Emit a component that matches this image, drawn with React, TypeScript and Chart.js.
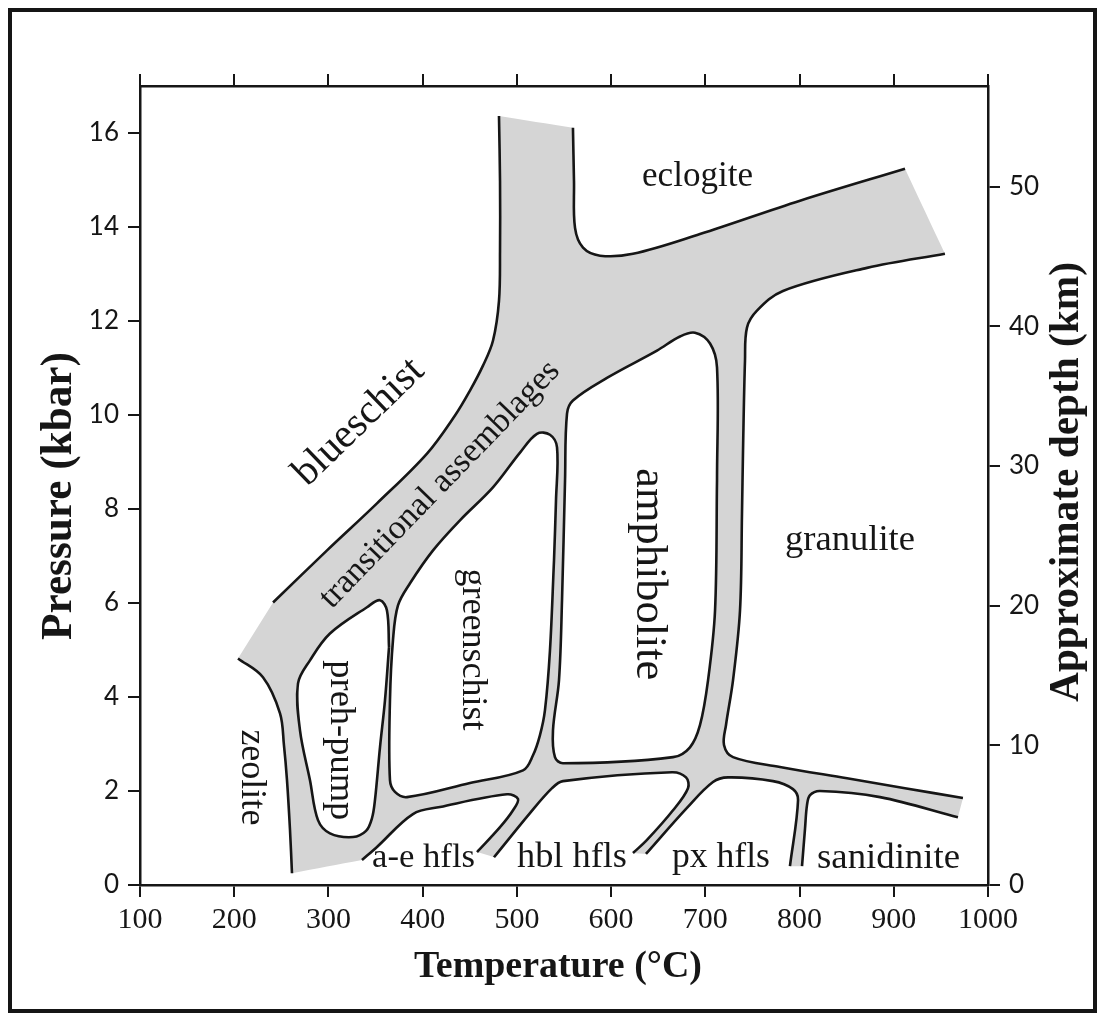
import React, { useEffect, useRef } from 'react';
import { Chart, registerables } from 'chart.js';

Chart.register(...registerables);

type Pt = [number, number]; // [temperature °C, pressure kbar]

// ---- axis ticks ----
const temperatureTicks = [100, 200, 300, 400, 500, 600, 700, 800, 900, 1000];
const pressureTicks = [0, 2, 4, 6, 8, 10, 12, 14, 16];
const depthTicks = [0, 10, 20, 30, 40, 50];

// ---- open facies boundaries (black curves) ----
const blueschistLine: Pt[] = [
  [241.2, 6.01], [298.5, 7.12], [351.5, 8.12], [404.6, 9.18], [434.3, 9.99], [450.2, 10.52],
  [464.0, 11.05], [474.6, 11.58], [481.0, 12.43], [482.1, 13.49], [482.1, 14.98], [481.0, 16.36],
];
const eclogiteLine: Pt[] = [
  [559.5, 16.11], [560.6, 14.98], [561.7, 13.98], [570.2, 13.56], [588.2, 13.39], [623.2, 13.43],
  [694.3, 13.85], [800.5, 14.56], [911.9, 15.24],
];
const granuliteLine: Pt[] = [
  [954.3, 13.43], [871.6, 13.13], [782.4, 12.64], [754.8, 12.22], [744.2, 11.86], [742.1, 11.16],
  [740.0, 9.24], [738.9, 7.9], [736.8, 5.84], [729.4, 4.36], [721.9, 3.4], [719.8, 2.98],
  [729.4, 2.72], [779.2, 2.51], [850.4, 2.27], [911.9, 2.06], [973.4, 1.85],
];
const sanidiniteLine: Pt[] = [
  [968.1, 1.44], [885.4, 1.87], [821.7, 2.0], [811.1, 1.91], [807.9, 1.7], [805.8, 1.2], [802.6, 0.4],
];
const pxHornfelsLine: Pt[] = [
  [789.8, 0.4], [798.4, 1.81], [793.0, 2.04], [771.8, 2.21], [724.1, 2.29], [708.1, 2.19],
  [680.5, 1.64], [637.0, 0.66],
];
const hblHornfelsLine: Pt[] = [
  [623.2, 0.68], [638.1, 0.96], [665.7, 1.59], [681.6, 2.06], [679.5, 2.29], [664.6, 2.4],
  [548.9, 2.21], [537.3, 2.06], [513.9, 1.53], [475.7, 0.59],
];
const aeHornfelsLine: Pt[] = [
  [457.7, 0.7], [482.1, 1.23], [495.9, 1.59], [501.2, 1.83], [489.5, 1.93], [418.4, 1.66],
  [389.7, 1.51], [351.5, 0.81], [335.6, 0.53],
];
const zeoliteLine: Pt[] = [
  [204.0, 4.82], [230.5, 4.42], [248.6, 3.65], [252.8, 2.97], [256.0, 2.23], [259.2, 1.17], [261.3, 0.25],
];

// ---- closed facies fields ----
const prehPumpField: Pt[] = [
  [364.3, 5.06], [360.0, 3.93], [354.7, 2.93], [349.4, 1.81], [346.2, 1.42], [339.9, 1.15],
  [326.1, 1.02], [301.6, 1.1], [288.9, 1.38], [280.4, 2.23], [269.8, 3.29], [267.7, 4.29],
  [280.4, 4.78], [301.6, 5.35], [340.9, 5.91], [354.7, 6.06], [362.1, 5.84],
];
const greenschistField: Pt[] = [
  [539.4, 6.91], [535.1, 4.99], [529.8, 3.72], [524.5, 3.19], [517.1, 2.76], [506.5, 2.44],
  [450.2, 2.17], [383.4, 1.87], [370.6, 1.98], [365.3, 2.23], [365.3, 3.93], [368.5, 5.21],
  [373.8, 5.95], [386.6, 6.42], [411.0, 7.12], [439.6, 7.76], [474.6, 8.46], [503.3, 9.2],
  [521.3, 9.6], [535.1, 9.58], [542.6, 9.31], [541.5, 8.18],
];
const amphiboliteField: Pt[] = [
  [712.4, 8.61], [710.3, 5.84], [702.9, 4.36], [694.3, 3.4], [683.7, 2.93], [665.7, 2.72],
  [548.9, 2.59], [540.4, 2.72], [538.3, 3.29], [544.7, 4.36], [547.9, 6.06], [551.1, 8.61],
  [553.2, 10.03], [559.5, 10.31], [595.6, 10.79], [648.7, 11.37], [673.1, 11.67], [689.0, 11.75],
  [705.0, 11.52], [712.4, 11.01],
];

// ---- facies names ----
const fieldLabels = [
  { text: 'eclogite', T: 691.7, P: 14.87, angle: 0, width: 111, base: 'alphabetic' },
  { text: 'granulite', T: 853.5, P: 7.12, angle: 0, width: 130, base: 'alphabetic' },
  { text: 'a-e hfls', T: 400.9, P: 0.38, angle: 0, width: 103, base: 'alphabetic' },
  { text: 'hbl hfls', T: 558.5, P: 0.38, angle: 0, width: 110, base: 'alphabetic' },
  { text: 'px hfls', T: 716.6, P: 0.38, angle: 0, width: 98, base: 'alphabetic' },
  { text: 'sanidinite', T: 894.4, P: 0.36, angle: 0, width: 143, base: 'alphabetic' },
  { text: 'blueschist', T: 340.4, P: 9.68, angle: -44, width: 165, base: 'alphabetic' },
  { text: 'transitional assemblages', T: 418.4, P: 8.52, angle: -46, width: 330, base: 'middle' },
  { text: 'greenschist', T: 453.0, P: 5.01, angle: 90, width: 162, base: 'middle' },
  { text: 'amphibolite', T: 640.0, P: 6.61, angle: 90, width: 212, base: 'middle' },
  { text: 'preh-pump', T: 313.3, P: 3.08, angle: 90, width: 160, base: 'middle' },
  { text: 'zeolite', T: 218.0, P: 2.29, angle: 90, width: 96, base: 'middle' },
];

const INK = '#161616';
const GRAY = '#d5d5d5';
const SERIF = '"Liberation Serif", "DejaVu Serif", serif';

const toXY = (pts: Pt[]) => pts.map(([x, y]) => ({ x, y }));

function drawFitted(ctx: CanvasRenderingContext2D, text: string, px: number, py: number,
  angleDeg: number, width: number, weight: string, baseline: CanvasTextBaseline) {
  ctx.save();
  ctx.font = `${weight} 100px ${SERIF}`;
  const w = ctx.measureText(text).width;
  const size = (100 * width) / w;
  ctx.font = `${weight} ${size}px ${SERIF}`;
  ctx.translate(px, py);
  ctx.rotate((angleDeg * Math.PI) / 180);
  ctx.textAlign = 'center';
  ctx.textBaseline = baseline;
  ctx.fillText(text, 0, 0);
  ctx.restore();
}

const labelPlugin = {
  id: 'faciesLabels',
  afterDatasetsDraw(chart: any) {
    const { ctx, chartArea, scales } = chart;
    ctx.save();
    ctx.fillStyle = INK;
    for (const l of fieldLabels) {
      drawFitted(ctx, l.text, scales.x.getPixelForValue(l.T), scales.y.getPixelForValue(l.P),
        l.angle, l.width, 'normal', l.base as CanvasTextBaseline);
    }
    drawFitted(ctx, 'Pressure (kbar)', chartArea.left - 80, chartArea.top + 410, -90, 288, 'bold', 'middle');
    drawFitted(ctx, 'Temperature (°C)', chartArea.left + 418, chartArea.bottom + 92, 0, 288, 'bold', 'alphabetic');
    drawFitted(ctx, 'Approximate depth (km)', chartArea.right + 79, chartArea.top + 396, -90, 440, 'bold', 'middle');
    ctx.restore();
  },
};

export default function App() {
  const ref = useRef<HTMLCanvasElement>(null);

  useEffect(() => {
    // gray envelope: the boundary curves joined by straight gray edges
    // (end points repeated so the joining edges stay straight under the spline)
    const segs: Pt[][] = [
      blueschistLine, eclogiteLine, granuliteLine, sanidiniteLine,
      pxHornfelsLine, hblHornfelsLine, aeHornfelsLine, [...zeoliteLine].reverse(),
    ];
    const envelope: Pt[] = segs.flatMap((s) => [s[0], ...s, s[s.length - 1]]);
    const openLines = [blueschistLine, eclogiteLine, granuliteLine, sanidiniteLine,
      pxHornfelsLine, hblHornfelsLine, aeHornfelsLine, zeoliteLine];
    const fields = [prehPumpField, greenschistField, amphiboliteField];

    const datasets: any[] = [
      ...openLines.map((pts) => ({
        data: toXY(pts), showLine: true, borderColor: INK, borderWidth: 2.6, pointRadius: 0,
        tension: 0.35, fill: false, order: 1, borderCapStyle: 'butt',
      })),
      ...fields.map((pts) => ({
        data: toXY([...pts, pts[0]]), showLine: true, borderColor: INK, borderWidth: 2.6,
        backgroundColor: '#ffffff', fill: 'shape', pointRadius: 0, tension: 0.35, order: 2,
      })),
      {
        data: toXY(envelope), showLine: true, borderColor: 'rgba(0,0,0,0)', borderWidth: 0,
        backgroundColor: GRAY, fill: 'shape', pointRadius: 0, tension: 0.35, order: 3,
      },
    ];

    const gridOpts = { drawOnChartArea: false, drawTicks: true, tickLength: 12, color: INK, lineWidth: 2 };
    const borderOpts = { color: INK, width: 2.5 };
    const setTicks = (vals: number[]) => (s: any) => { s.ticks = vals.map((v) => ({ value: v })); };

    const chart = new Chart(ref.current as HTMLCanvasElement, {
      type: 'scatter',
      data: { datasets },
      options: {
        animation: false,
        responsive: false,
        devicePixelRatio: 1,
        events: [],
        layout: { padding: 0 },
        plugins: { legend: { display: false }, tooltip: { enabled: false } },
        scales: {
          x: {
            type: 'linear', position: 'bottom', min: 100, max: 1000,
            afterBuildTicks: setTicks(temperatureTicks),
            ticks: { font: { family: SERIF, size: 30 }, color: INK, padding: 5, maxRotation: 0, autoSkip: false, callback: (v: any) => String(v) },
            grid: gridOpts, border: borderOpts,
            afterFit: (s: any) => { s.height = 124; },
          },
          x2: {
            type: 'linear', position: 'top', min: 100, max: 1000,
            afterBuildTicks: setTicks(temperatureTicks),
            ticks: { display: false },
            grid: gridOpts, border: borderOpts,
            afterFit: (s: any) => { s.height = 74; },
          },
          y: {
            type: 'linear', position: 'left', min: 0, max: 17,
            afterBuildTicks: setTicks(pressureTicks),
            ticks: { font: { family: 'Lato', size: 26 }, color: INK, padding: 9, autoSkip: false, callback: (v: any) => String(v) },
            grid: gridOpts, border: borderOpts,
            afterFit: (s: any) => { s.width = 128; },
          },
          y2: {
            type: 'linear', position: 'right', min: 0, max: 57.2,
            afterBuildTicks: setTicks(depthTicks),
            ticks: { font: { family: 'Lato', size: 26 }, color: INK, padding: 9, autoSkip: false, callback: (v: any) => String(v) },
            grid: gridOpts, border: borderOpts,
            afterFit: (s: any) => { s.width = 105; },
          },
        },
      } as any,
      plugins: [labelPlugin],
    });
    return () => chart.destroy();
  }, []);

  return (
    <div style={{ width: 1089, height: 1005, border: '4px solid #151515', boxSizing: 'border-box', background: '#fff' }}>
      <canvas ref={ref} width={1081} height={997} style={{ display: 'block', width: 1081, height: 997 }} />
    </div>
  );
}
